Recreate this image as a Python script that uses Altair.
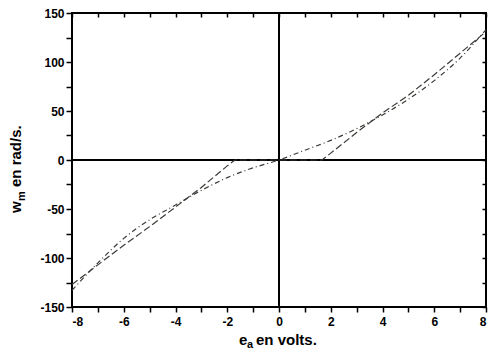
import altair as alt
import pandas as pd

# ---- data ----
x_deadzone = [-8, -7, -6, -5, -4, -3, -2, -1.7, 1.66, 2, 3, 4, 5, 6, 7, 8]
w_deadzone = [-127, -107, -87, -68, -48, -28, -6, 0, 0, 7, 28, 48, 66, 87, 109, 131]
x_smooth = [-8, -7, -6, -5, -4, -3, -2, -1, 0, 1, 2, 3, 4, 5, 6, 7, 8]
w_smooth = [-133, -105, -80, -61, -46, -31, -18, -8, 0, 10, 20, 32, 46, 62, 81, 104, 133]
x_ticks = list(range(-8, 9))
y_ticks = list(range(-150, 151, 25))
zero = [0]

FONT = "Liberation Sans"
W, H = 414, 294
LINE_COLOR = "#3a3a36"

xs = alt.Scale(domain=[-8, 8], nice=False, zero=False)
ys = alt.Scale(domain=[-150, 150], nice=False, zero=False)

df_dz = pd.DataFrame({"e": x_deadzone, "w": w_deadzone})
df_sm = pd.DataFrame({"e": x_smooth, "w": w_smooth})
df_zero = pd.DataFrame({"v": zero})

common = dict(domain=False, grid=False, title=None, tickColor="black", tickWidth=1.5,
              labelFont=FONT, labelFontSize=12, labelFontWeight="bold", labelColor="black")

ax_bottom = alt.Axis(orient="bottom", values=x_ticks,
                     labelExpr="datum.value % 2 == 0 ? '' + datum.value : ''",
                     tickSize=5, labelPadding=4, **common)
ax_left = alt.Axis(orient="left", values=y_ticks,
                   labelExpr="datum.value % 50 == 0 ? '' + datum.value : ''",
                   tickSize=6, labelPadding=2, **common)
ax_top = alt.Axis(orient="top", values=x_ticks, labels=False, tickSize=4, offset=-4,
                  domain=False, grid=False, title=None, tickColor="black", tickWidth=1.5)
ax_right = alt.Axis(orient="right", values=y_ticks, labels=False, tickSize=4, offset=-4,
                    domain=False, grid=False, title=None, tickColor="black", tickWidth=1.5)

hz = alt.Chart(df_zero).mark_rule(color="black", strokeWidth=2).encode(
    y=alt.Y("v:Q", scale=ys, axis=None))
vt = alt.Chart(df_zero).mark_rule(color="black", strokeWidth=2).encode(
    x=alt.X("v:Q", scale=xs, axis=None))

dz = alt.Chart(df_dz).mark_line(color=LINE_COLOR, strokeWidth=1.2, strokeDash=[7, 3]).encode(
    x=alt.X("e:Q", scale=xs, axis=ax_bottom),
    y=alt.Y("w:Q", scale=ys, axis=ax_left))
sm = alt.Chart(df_sm).mark_line(color=LINE_COLOR, strokeWidth=1.2, strokeDash=[5, 3, 1, 3],
                                interpolate="monotone").encode(
    x=alt.X("e:Q", scale=xs, axis=ax_top),
    y=alt.Y("w:Q", scale=ys, axis=ax_right))


def txt(s, x, y, size, angle=0):
    kw = dict(align="left", baseline="alphabetic", font=FONT, fontSize=size,
              fontWeight="bold", color="black")
    if angle:
        kw["angle"] = angle
    return alt.Chart(pd.DataFrame({"t": [s]})).mark_text(**kw).encode(
        x=alt.value(x), y=alt.value(y), text="t:N")


# x title: e_a en volts.
xt = [txt("e", 167, 332, 15), txt("a", 175, 335, 11), txt("en volts.", 184, 332, 15)]
# y title: w_m en rad/s. (rotated)
yt = [txt("w", -51.5, 200, 15, 270), txt("m", -47, 188, 11, 270),
      txt("en rad/s.", -51.5, 174, 15, 270)]

chart = alt.layer(hz, vt, dz, sm, *xt, *yt).resolve_axis(
    x="independent", y="independent"
).properties(
    width=W, height=H,
    autosize=alt.AutoSizeParams(type="none"),
    padding={"left": 64, "top": 5, "right": 3, "bottom": 43},
    background="white",
).configure_view(stroke="black", strokeWidth=2)

chart.save("out.html", embed_options={"renderer": "svg", "actions": False})
